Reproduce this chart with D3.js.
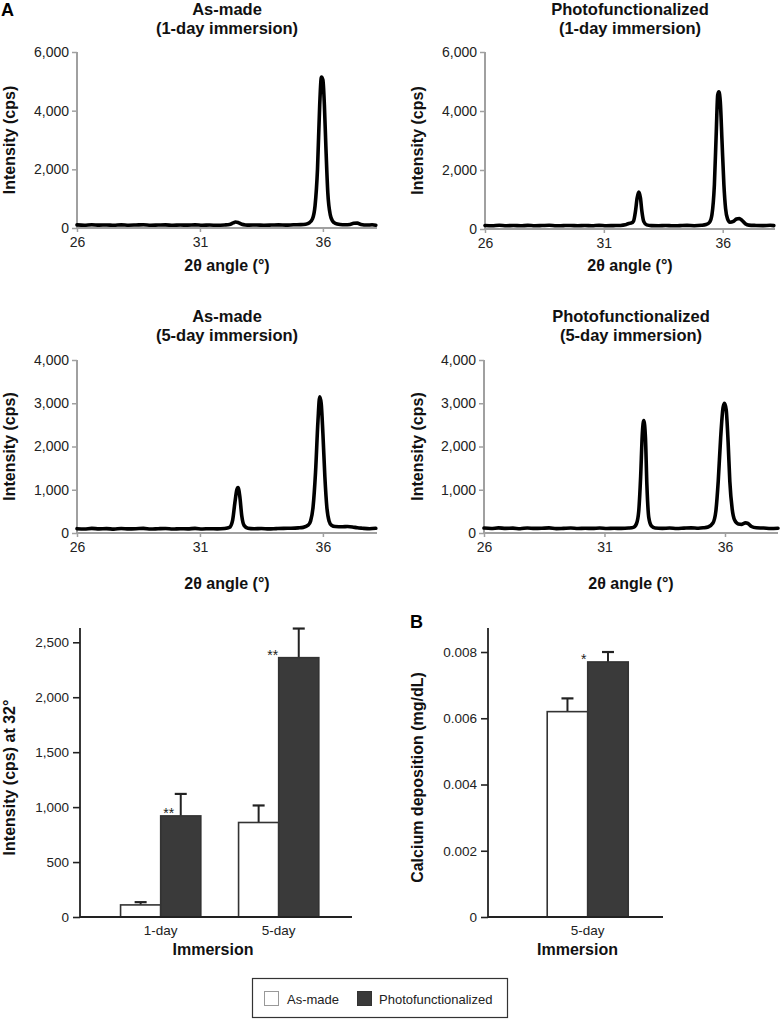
<!DOCTYPE html>
<html>
<head>
<meta charset="utf-8">
<script src="https://cdn.jsdelivr.net/npm/d3@7"></script>
<style>
  html, body { margin: 0; padding: 0; background: #fff; }
  svg { display: block; font-family: Arial, "Liberation Sans", Helvetica, sans-serif; }
</style>
</head>
<body>
<svg id="chart" width="781" height="1019"></svg>
<script>
// ---------------- DATA ----------------
const angleTicks = [26, 31, 36];
const angleDomain = [26, 38.2];

const xrdTitles = [
  ["As-made", "(1-day immersion)"],
  ["Photofunctionalized", "(1-day immersion)"],
  ["As-made", "(5-day immersion)"],
  ["Photofunctionalized", "(5-day immersion)"]
];
const xrdYMax = [6000, 6000, 4000, 4000];
const xrdYTicks1day = [0, 2000, 4000, 6000];
const xrdYTicks5day = [0, 1000, 2000, 3000, 4000];

// [2θ angle (°), intensity (cps)]
const xrdAsMade1 = [
  [26.0,105],[26.3,95],[26.6,110],[26.9,98],[27.2,104],[27.5,92],[27.8,108],[28.1,96],[28.4,102],[28.7,110],
  [29.0,94],[29.3,100],[29.6,106],[29.9,93],[30.2,101],[30.5,97],[30.8,108],[31.1,95],[31.4,100],[31.7,92],
  [32.0,104],[32.2,120],[32.35,175],[32.45,205],[32.55,190],[32.7,130],[32.85,105],[33.0,98],[33.3,104],[33.6,95],
  [33.9,100],[34.2,108],[34.5,98],[34.8,110],[35.1,115],[35.3,130],[35.45,180],[35.58,320],[35.68,750],[35.78,2000],
  [35.87,4200],[35.94,5150],[36.0,5050],[36.06,4200],[36.12,2800],[36.2,1200],[36.3,450],[36.4,230],[36.5,160],[36.7,120],
  [36.9,110],[37.1,120],[37.25,160],[37.4,165],[37.55,120],[37.8,100],[38.0,110],[38.15,95]
];
const xrdPhoto1 = [
  [26.0,120],[26.3,110],[26.6,125],[26.9,112],[27.2,118],[27.5,108],[27.8,122],[28.1,110],[28.4,117],[28.7,125],
  [29.0,108],[29.3,115],[29.6,120],[29.9,110],[30.2,117],[30.5,112],[30.8,124],[31.1,110],[31.4,115],[31.7,120],
  [31.9,140],[32.05,190],[32.15,200],[32.25,270],[32.33,600],[32.4,1050],[32.47,1250],[32.54,1050],[32.6,600],[32.68,250],
  [32.8,140],[33.0,115],[33.3,110],[33.6,120],[33.9,108],[34.2,115],[34.5,122],[34.8,112],[35.1,125],[35.3,150],
  [35.45,230],[35.55,500],[35.65,1500],[35.73,3300],[35.79,4550],[35.84,4650],[35.9,4300],[35.97,3000],[36.05,1500],[36.12,700],
  [36.2,350],[36.3,230],[36.45,260],[36.58,340],[36.7,355],[36.8,300],[36.95,180],[37.1,130],[37.4,120],[37.7,115],
  [38.0,125],[38.15,115]
];
const xrdAsMade5 = [
  [26.0,100],[26.3,92],[26.6,106],[26.9,95],[27.2,102],[27.5,90],[27.8,104],[28.1,96],[28.4,100],[28.7,108],
  [29.0,92],[29.3,99],[29.6,104],[29.9,92],[30.2,100],[30.5,96],[30.8,106],[31.1,94],[31.4,100],[31.7,95],
  [32.0,105],[32.2,130],[32.33,300],[32.42,700],[32.5,1000],[32.55,1050],[32.62,850],[32.7,400],[32.8,170],[32.95,110],
  [33.2,98],[33.5,104],[33.8,95],[34.1,102],[34.4,108],[34.7,110],[35.0,118],[35.2,130],[35.4,180],[35.5,280],
  [35.6,600],[35.7,1400],[35.8,2600],[35.87,3150],[35.93,3000],[36.0,2300],[36.08,1300],[36.16,600],[36.25,280],[36.35,180],
  [36.5,150],[36.8,145],[37.0,150],[37.2,140],[37.4,120],[37.6,110],[37.9,100],[38.15,110]
];
const xrdPhoto5 = [
  [26.0,115],[26.3,105],[26.6,118],[26.9,108],[27.2,112],[27.5,100],[27.8,116],[28.1,106],[28.4,110],[28.7,118],
  [29.0,102],[29.3,108],[29.6,114],[29.9,104],[30.2,110],[30.5,106],[30.8,116],[31.1,104],[31.4,110],[31.7,106],
  [32.0,114],[32.2,130],[32.33,220],[32.42,500],[32.5,1300],[32.57,2300],[32.63,2600],[32.7,2200],[32.76,1100],[32.84,350],
  [32.95,160],[33.1,115],[33.4,108],[33.7,114],[34.0,104],[34.3,112],[34.6,118],[34.9,110],[35.1,120],[35.3,140],
  [35.5,230],[35.62,500],[35.72,1200],[35.82,2200],[35.92,2900],[35.98,3000],[36.05,2850],[36.13,2100],[36.2,1200],[36.3,550],
  [36.4,300],[36.55,210],[36.7,200],[36.85,235],[36.95,220],[37.1,150],[37.3,120],[37.6,115],[37.9,105],[38.2,110]
];

// Bar charts
const immersionCats = ["1-day", "5-day"];
const seriesNames = ["As-made", "Photofunctionalized"];
const intensityAsMade = [110, 860];
const intensityAsMadeErr = [25, 155];
const intensityPhoto = [920, 2360];
const intensityPhotoErr = [200, 265];
const intensitySig = ["**", "**"];
const intensityTicks = [0, 500, 1000, 1500, 2000, 2500];

const calciumCats = ["5-day"];
const calciumAsMade = [0.0062];
const calciumAsMadeErr = [0.0004];
const calciumPhoto = [0.0077];
const calciumPhotoErr = [0.0003];
const calciumSig = ["*"];
const calciumTicks = [0, 0.002, 0.004, 0.006, 0.008];

// ---------------- STYLE / LAYOUT ----------------
const seriesColors = ["#ffffff", "#3a3a3a"];
const svg = d3.select("#chart");

// Panel letters
svg.append("text").attr("x", 1).attr("y", 16).attr("font-size", 18).attr("font-weight", "bold").text("A");
svg.append("text").attr("x", 410).attr("y", 628).attr("font-size", 18).attr("font-weight", "bold").text("B");

const xrdLayout = [
  {left: 77, right: 377, top: 52, bottom: 228, titleY: 15, xlabY: 271, ylabX: 15},
  {left: 485, right: 775, top: 52, bottom: 229, titleY: 15, xlabY: 271, ylabX: 423},
  {left: 77, right: 377, top: 360, bottom: 533, titleY: 322, xlabY: 589, ylabX: 15},
  {left: 484, right: 778, top: 360, bottom: 533, titleY: 322, xlabY: 589, ylabX: 423}
];
const xrdSeries = [xrdAsMade1, xrdPhoto1, xrdAsMade5, xrdPhoto5];
const xrdTickSets = [xrdYTicks1day, xrdYTicks1day, xrdYTicks5day, xrdYTicks5day];

xrdSeries.forEach((data, i) => {
  const L = xrdLayout[i];
  const x = d3.scaleLinear().domain(angleDomain).range([L.left, L.right]);
  const y = d3.scaleLinear().domain([0, xrdYMax[i]]).range([L.bottom, L.top]);
  const g = svg.append("g");
  const cx = (L.left + L.right) / 2;

  // titles
  g.append("text").attr("x", cx).attr("y", L.titleY).attr("text-anchor", "middle")
    .attr("font-size", 16.5).attr("font-weight", "bold").attr("fill", "#111").text(xrdTitles[i][0]);
  g.append("text").attr("x", cx).attr("y", L.titleY + 19).attr("text-anchor", "middle")
    .attr("font-size", 16.5).attr("font-weight", "bold").attr("fill", "#111").text(xrdTitles[i][1]);

  // axes
  const yAx = g.append("g").attr("transform", `translate(${L.left},0)`)
    .call(d3.axisLeft(y).tickValues(xrdTickSets[i]).tickSize(5).tickPadding(3).tickFormat(d3.format(",")));
  const xAx = g.append("g").attr("transform", `translate(0,${L.bottom})`)
    .call(d3.axisBottom(x).tickValues(angleTicks).tickSize(4).tickPadding(5).tickFormat(d3.format("d")));
  [yAx, xAx].forEach(a => {
    a.select(".domain").attr("stroke", "#a0a0a0").attr("stroke-width", 2);
    a.selectAll(".tick line").attr("stroke", "#a0a0a0").attr("stroke-width", 1.5);
    a.selectAll(".tick text").attr("font-size", 14).attr("fill", "#222").attr("font-family", "Arial, 'Liberation Sans', sans-serif");
  });
  xAx.select(".domain").attr("d", `M${L.left},0H${L.right}`);
  yAx.select(".domain").attr("d", `M0,${L.top}V${L.bottom}`);

  // axis labels
  g.append("text").attr("x", cx).attr("y", L.xlabY).attr("text-anchor", "middle")
    .attr("font-size", 16).attr("font-weight", "bold").attr("fill", "#111").text("2θ angle (°)");
  g.append("text").attr("transform", `translate(${L.ylabX},${(L.top + L.bottom) / 2}) rotate(-90)`)
    .attr("text-anchor", "middle").attr("font-size", 16).attr("font-weight", "bold").attr("fill", "#111")
    .text("Intensity (cps)");

  // spectrum
  const line = d3.line().x(d => x(d[0])).y(d => y(d[1])).curve(d3.curveMonotoneX);
  g.append("path").datum(data).attr("d", line).attr("fill", "none")
    .attr("stroke", "#000").attr("stroke-width", 3.6).attr("stroke-linejoin", "round").attr("stroke-linecap", "round");
});

// ---------------- BAR CHARTS ----------------
function barChart(opts) {
  const {left, right, top, bottom, yMax, ticks, tickFmt, cats, asMade, asMadeErr, photo, photoErr, sig,
         band, yLabel, ylabX, sigDx} = opts;
  const g = svg.append("g");
  const y = d3.scaleLinear().domain([0, yMax]).range([bottom, top]);
  const x = d3.scaleBand().domain(cats).range([left, right])
    .paddingInner(band.pi).paddingOuter(band.po).align(band.align);
  const xs = d3.scaleBand().domain(seriesNames).range([0, x.bandwidth()]);

  const rows = [];
  cats.forEach((c, i) => {
    rows.push({cat: c, s: seriesNames[0], v: asMade[i], e: asMadeErr[i]});
    rows.push({cat: c, s: seriesNames[1], v: photo[i], e: photoErr[i], sig: sig[i], idx: i});
  });

  // error bars (upper only)
  rows.forEach(r => {
    const cx = x(r.cat) + xs(r.s) + xs.bandwidth() / 2;
    g.append("line").attr("x1", cx).attr("x2", cx).attr("y1", y(r.v)).attr("y2", y(r.v + r.e))
      .attr("stroke", "#222").attr("stroke-width", 2);
    g.append("line").attr("x1", cx - 6).attr("x2", cx + 6).attr("y1", y(r.v + r.e)).attr("y2", y(r.v + r.e))
      .attr("stroke", "#222").attr("stroke-width", 2.2);
  });

  g.selectAll("rect.bar").data(rows).join("rect").attr("class", "bar")
    .attr("x", d => x(d.cat) + xs(d.s))
    .attr("y", d => y(d.v))
    .attr("width", xs.bandwidth())
    .attr("height", d => bottom - y(d.v))
    .attr("fill", d => seriesColors[seriesNames.indexOf(d.s)])
    .attr("stroke", "#333").attr("stroke-width", 1.6);

  // significance marks
  rows.filter(r => r.sig).forEach(r => {
    g.append("text").attr("x", x(r.cat) + xs(r.s) + sigDx[r.idx]).attr("y", y(r.v) + 2)
      .attr("text-anchor", "middle").attr("font-size", 14).attr("fill", "#222").text(r.sig);
  });

  const yAx = g.append("g").attr("transform", `translate(${left},0)`)
    .call(d3.axisLeft(y).tickValues(ticks).tickSize(7).tickPadding(4).tickFormat(tickFmt));
  yAx.select(".domain").attr("d", `M0,${top}V${bottom}`);
  const xAx = g.append("g").attr("transform", `translate(0,${bottom})`)
    .call(d3.axisBottom(x).tickSize(0).tickPadding(8));
  xAx.select(".domain").attr("d", `M${left},0H${right}`);
  [yAx, xAx].forEach(a => {
    a.select(".domain").attr("stroke", "#222").attr("stroke-width", 1.8);
    a.selectAll(".tick line").attr("stroke", "#222").attr("stroke-width", 1.6);
    a.selectAll(".tick text").attr("font-size", 13.5).attr("fill", "#222").attr("font-family", "Arial, 'Liberation Sans', sans-serif");
  });

  g.append("text").attr("x", (left + right) / 2 + opts.immDx).attr("y", 955).attr("text-anchor", "middle")
    .attr("font-size", 16).attr("font-weight", "bold").attr("fill", "#111").text("Immersion");
  g.append("text").attr("transform", `translate(${ylabX},${(top + bottom) / 2 + 5}) rotate(-90)`)
    .attr("text-anchor", "middle").attr("font-size", 16).attr("font-weight", "bold").attr("fill", "#111")
    .text(yLabel);
}

barChart({
  left: 80, right: 352, top: 628, bottom: 917, yMax: 2630, ticks: intensityTicks, tickFmt: d3.format(","),
  cats: immersionCats, asMade: intensityAsMade, asMadeErr: intensityAsMadeErr, photo: intensityPhoto,
  photoErr: intensityPhotoErr, sig: intensitySig, band: {pi: 0.32, po: 0.3125, align: 0.55},
  yLabel: "Intensity (cps) at 32°", ylabX: 15, sigDx: [8, -6], immDx: -3
});

barChart({
  left: 488, right: 663, top: 628, bottom: 917, yMax: 0.008725, ticks: calciumTicks,
  tickFmt: d => d === 0 ? "0" : d3.format(".3f")(d),
  cats: calciumCats, asMade: calciumAsMade, asMadeErr: calciumAsMadeErr, photo: calciumPhoto,
  photoErr: calciumPhotoErr, sig: calciumSig, band: {pi: 0, po: 0.58, align: 0.63},
  yLabel: "Calcium deposition (mg/dL)", ylabX: 423, sigDx: [-4], immDx: 2
});

// ---------------- LEGEND ----------------
const leg = svg.append("g");
leg.append("rect").attr("x", 252.5).attr("y", 978.5).attr("width", 255).attr("height", 39)
  .attr("fill", "#fff").attr("stroke", "#333").attr("stroke-width", 1.2);
const legX = [264, 357];
const legTextX = [287, 379];
seriesNames.forEach((s, i) => {
  leg.append("rect").attr("x", legX[i] + 0.5).attr("y", 991.5).attr("width", 14).attr("height", 14)
    .attr("fill", seriesColors[i]).attr("stroke", i === 0 ? "#999" : "#333").attr("stroke-width", 1);
  leg.append("text").attr("x", legTextX[i]).attr("y", 1003.5).attr("font-size", 13).attr("fill", "#222").text(s);
});
</script>
</body>
</html>
